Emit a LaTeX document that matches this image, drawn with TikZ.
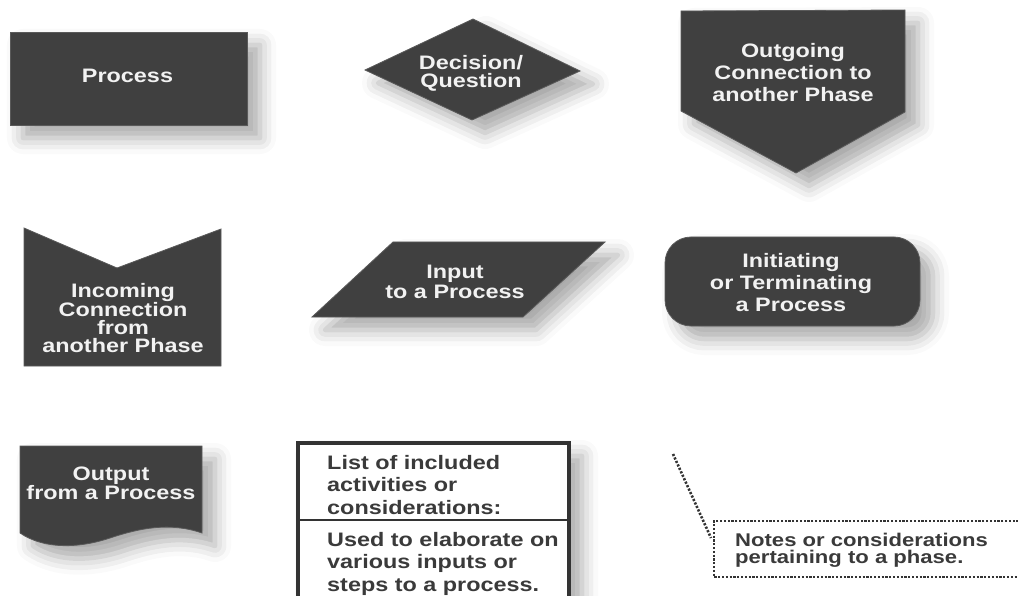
\documentclass[tikz,border=0pt]{standalone}
\usepackage{fontspec}
\setmainfont{Liberation Sans}[FakeStretch=1.2]
\usetikzlibrary{shadows.blur}
\definecolor{shapefill}{HTML}{404040}
\definecolor{shapeedge}{HTML}{5A5A5A}
\definecolor{ink}{HTML}{3A3A3A}
\definecolor{paper}{HTML}{F2F2F2}
\definecolor{rule}{HTML}{333333}

\tikzset{
  symbol/.style={fill=shapefill, draw=shapeedge, line width=0.8pt},
  softshadow/.style={blur shadow={shadow xshift=13pt, shadow yshift=-13pt,
      shadow blur radius=16pt, shadow opacity=34}},
  lbl/.style={text=paper, inner sep=0pt, align=center, anchor=north,
      font=\bfseries\fontsize{19.5}{#1}\selectfont},
  lbl/.default=22,
  listtext/.style={text=ink, inner sep=0pt, align=left, anchor=north west,
      font=\bfseries\fontsize{19.5}{22.6}\selectfont},
  notetext/.style={text=ink, inner sep=0pt, align=left, anchor=north west,
      font=\bfseries\fontsize{18.4}{17}\selectfont},
  dotline/.style={draw=rule, line width=2.6pt, dash pattern=on 2.2pt off 1.6pt},
}

\begin{document}
\begin{tikzpicture}[x=1pt, y=-1pt]
\useasboundingbox (0,0) rectangle (1018,596);

% Process
\path[symbol, softshadow] (10,32) rectangle (247,125);
\node[lbl] (process) at (127.5,69) {Process};

% Decision
\path[symbol, softshadow] (365,70) -- (473,19) -- (580,71) -- (472,120) -- cycle;
\node[lbl=18.5] (decision) at (471,55) {Decision/\\Question};

% Outgoing connection
\path[symbol, softshadow] (681,11) -- (905,10) -- (905,112) -- (796,173) -- (681,111) -- cycle;
\node[lbl=22] (outgoing) at (793,43) {Outgoing\\Connection to\\another Phase};

% Incoming connection
\path[symbol] (24,228) -- (117,268) -- (221,229) -- (221,366) -- (24,366) -- cycle;
\node[lbl=17.9] (incoming) at (123,283) {Incoming\\Connection\\from\\another Phase};

% Input
\path[symbol, softshadow] (393,242) -- (605,242) -- (523,317) -- (312,317) -- cycle;
\node[lbl=19.5] (input) at (455,265) {Input\\to a Process};

% Initiating / terminating
\path[symbol, softshadow, rounded corners=26pt] (665,237) rectangle (920,326);
\node[lbl=22] (terminal) at (791,253) {Initiating\\or Terminating\\a Process};

% Output document
\path[symbol, softshadow] (20,446) -- (202,446) -- (202,533)
   .. controls (170,522) and (140,528) .. (110,538)
   .. controls (80,548) and (45,550) .. (20,533) -- cycle;
\node[lbl=18.5] (output) at (111,467) {Output\\from a Process};

% List box
\path[fill=white, draw=rule, line width=3.2pt, softshadow] (298,443) rectangle (569,600);
\draw[rule, line width=2.6pt] (298,520) -- (569,520);
\node[listtext] (listhead) at (327,455) {List of included\\activities or\\considerations:};
\node[listtext] (listbody) at (327,532) {Used to elaborate on\\various inputs or\\steps to a process.};

% Notes
\coordinate (notetail) at (673,454);
\coordinate (notejoin) at (711,538);
\draw[dotline] (notetail) -- (notejoin);
\draw[dotline] (1030,521) -- (714,521) -- (714,577) -- (1030,577);
\node[notetext] (notes) at (735,533) {Notes or considerations\\pertaining to a phase.};
\end{tikzpicture}
\end{document}
